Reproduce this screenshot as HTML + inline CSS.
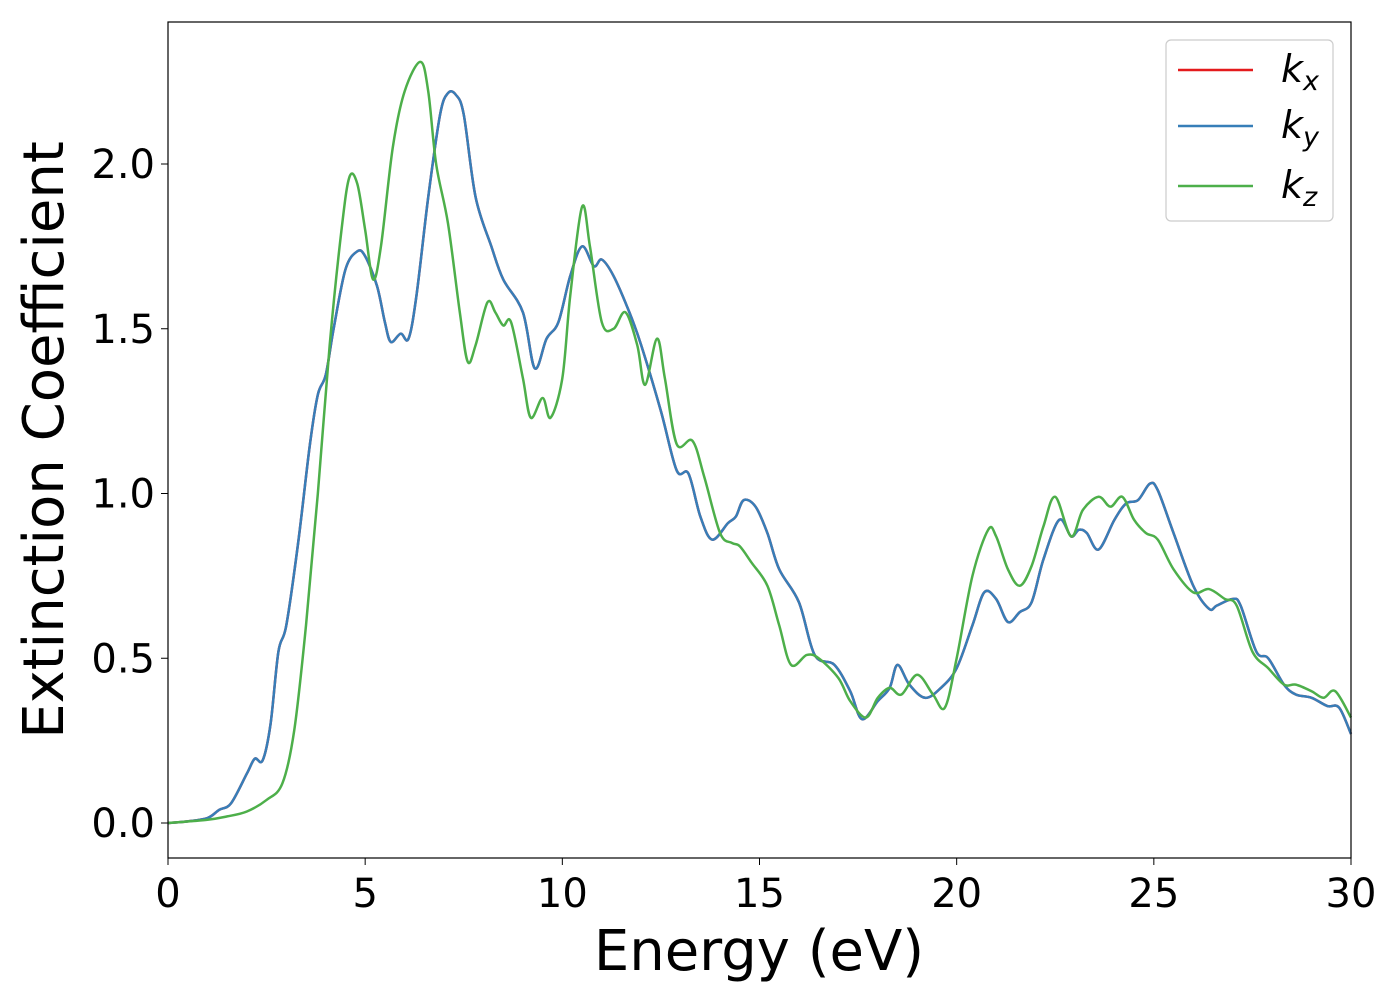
<!DOCTYPE html>
<html><head><meta charset="utf-8"><style>
body{margin:0;background:#fff;}
svg{display:block;font-family:"DejaVu Sans","Liberation Sans",sans-serif;}
</style></head><body>
<svg id="chart" width="1400" height="1000">
<rect x="0" y="0" width="1400" height="1000" fill="#fff"/>
<g id="plot"></g>
<rect x="168" y="22" width="1183" height="836" fill="none" stroke="#000" stroke-width="1.2"/>
<g id="xticks"></g><g id="yticks"></g>
<text x="759" y="970" font-size="56" text-anchor="middle">Energy (eV)</text>
<text transform="translate(63,440) rotate(-90)" font-size="56" text-anchor="middle">Extinction Coefficient</text>
<g>
<rect x="1166" y="40" width="167" height="181" rx="5" fill="#fff" stroke="#ccc" stroke-width="1.2"/>
<line x1="1178" y1="70" x2="1253" y2="70" stroke="#e41a1c" stroke-width="2.5"/>
<text x="1281" y="82" font-size="38" font-style="italic">k<tspan font-size="27" dy="8">x</tspan></text>
<line x1="1178" y1="126" x2="1253" y2="126" stroke="#377eb8" stroke-width="2.5"/>
<text x="1281" y="138" font-size="38" font-style="italic">k<tspan font-size="27" dy="8">y</tspan></text>
<line x1="1178" y1="186" x2="1253" y2="186" stroke="#4daf4a" stroke-width="2.5"/>
<text x="1281" y="198" font-size="38" font-style="italic">k<tspan font-size="27" dy="8">z</tspan></text>
</g>
</svg>
<script>
const xTicks=[0,5,10,15,20,25,30];
const yTicks=[0.0,0.5,1.0,1.5,2.0];
const kxyE=[0,0.5,1,1.3,1.6,2.0,2.2,2.4,2.6,2.8,3.0,3.3,3.6,3.8,4.0,4.2,4.5,4.8,5.0,5.3,5.5,5.65,5.9,6.1,6.3,6.6,6.9,7.1,7.3,7.5,7.8,8.2,8.5,9.0,9.3,9.6,9.9,10.2,10.5,10.8,11.0,11.3,11.7,12.0,12.5,12.9,13.2,13.5,13.8,14.2,14.4,14.6,14.9,15.2,15.5,16.0,16.4,16.9,17.3,17.6,18.0,18.3,18.5,18.8,19.2,19.6,20.0,20.4,20.7,21.0,21.3,21.6,21.9,22.2,22.6,22.9,23.1,23.3,23.6,24.0,24.3,24.6,24.9,25.1,25.5,26.0,26.4,26.6,27.0,27.2,27.6,27.9,28.3,28.6,29.0,29.4,29.7,30];
const kxyV=[0,0.005,0.015,0.04,0.06,0.15,0.195,0.19,0.3,0.52,0.6,0.85,1.15,1.3,1.36,1.5,1.68,1.735,1.72,1.63,1.52,1.46,1.485,1.47,1.6,1.9,2.15,2.215,2.21,2.15,1.9,1.75,1.65,1.55,1.38,1.47,1.52,1.66,1.75,1.69,1.71,1.66,1.55,1.45,1.25,1.07,1.06,0.93,0.86,0.91,0.93,0.98,0.96,0.88,0.77,0.67,0.51,0.48,0.4,0.315,0.37,0.41,0.48,0.42,0.38,0.41,0.47,0.6,0.7,0.68,0.61,0.64,0.67,0.8,0.92,0.87,0.89,0.88,0.83,0.92,0.97,0.98,1.03,1.01,0.88,0.72,0.65,0.66,0.68,0.66,0.52,0.5,0.42,0.39,0.38,0.355,0.35,0.27];
const kzE=[0,1,1.5,2,2.5,2.9,3.2,3.5,3.8,4.1,4.4,4.6,4.8,5.0,5.2,5.4,5.7,6.0,6.4,6.6,6.8,7.1,7.4,7.6,7.8,8.1,8.3,8.5,8.7,9.0,9.2,9.5,9.7,10.0,10.2,10.5,10.7,11.0,11.3,11.6,11.9,12.1,12.4,12.6,12.9,13.3,13.6,14.0,14.3,14.5,14.8,15.2,15.5,15.8,16.2,16.5,17.0,17.3,17.7,18.0,18.3,18.6,19.0,19.4,19.7,20.0,20.4,20.8,21.0,21.3,21.6,21.9,22.2,22.5,22.9,23.2,23.6,23.9,24.2,24.5,24.8,25.1,25.5,26.0,26.4,26.8,27.1,27.5,27.9,28.3,28.6,29.0,29.3,29.6,30];
const kzV=[0,0.01,0.02,0.035,0.07,0.12,0.28,0.6,1.0,1.45,1.8,1.96,1.94,1.8,1.65,1.75,2.05,2.22,2.31,2.22,2.0,1.82,1.55,1.4,1.45,1.58,1.55,1.51,1.52,1.35,1.23,1.29,1.23,1.35,1.6,1.87,1.75,1.52,1.5,1.55,1.45,1.33,1.47,1.35,1.15,1.16,1.05,0.88,0.85,0.84,0.79,0.72,0.6,0.48,0.51,0.5,0.44,0.37,0.32,0.38,0.41,0.39,0.45,0.39,0.35,0.5,0.75,0.89,0.87,0.77,0.72,0.78,0.9,0.99,0.87,0.95,0.99,0.96,0.99,0.92,0.88,0.86,0.77,0.7,0.71,0.68,0.66,0.52,0.47,0.42,0.42,0.4,0.38,0.4,0.32];
const NS='http://www.w3.org/2000/svg';
const xs=v=>168+v*(1183/30);
const ys=v=>823-v*329.5;
function pathD(E,V){
  const p=E.map((e,i)=>[xs(e),ys(V[i])]);
  let d='M'+p[0][0]+','+p[0][1];
  for(let i=0;i<p.length-1;i++){
    const p0=p[i-1]||p[i],p1=p[i],p2=p[i+1],p3=p[i+2]||p2;
    const c1x=p1[0]+(p2[0]-p0[0])/6,c1y=p1[1]+(p2[1]-p0[1])/6;
    const c2x=p2[0]-(p3[0]-p1[0])/6,c2y=p2[1]-(p3[1]-p1[1])/6;
    d+=` C${c1x},${c1y} ${c2x},${c2y} ${p2[0]},${p2[1]}`;
  }
  return d;
}
const plot=document.getElementById('plot');
function addLine(E,V,color,name){
  const el=document.createElementNS(NS,'path');
  el.setAttribute('d',pathD(E,V));
  el.setAttribute('fill','none');
  el.setAttribute('stroke',color);
  el.setAttribute('stroke-width','2.5');
  
  
  plot.appendChild(el);
}
addLine(kxyE,kxyV,'#e41a1c','series-kx');
addLine(kxyE,kxyV,'#377eb8','series-ky');
addLine(kzE,kzV,'#4daf4a','series-kz');
const xg=document.getElementById('xticks');
xTicks.forEach(t=>{
  const l=document.createElementNS(NS,'line');
  l.setAttribute('x1',xs(t));l.setAttribute('x2',xs(t));l.setAttribute('y1',858);l.setAttribute('y2',865);
  l.setAttribute('stroke','#000');
  
  
  xg.appendChild(l);
  const tx=document.createElementNS(NS,'text');
  tx.setAttribute('x',xs(t));tx.setAttribute('y',907);tx.setAttribute('font-size','40');tx.setAttribute('text-anchor','middle');
  tx.textContent=t;
  
  
  xg.appendChild(tx);
});
const yg=document.getElementById('yticks');
yTicks.forEach(t=>{
  const l=document.createElementNS(NS,'line');
  l.setAttribute('x1',161);l.setAttribute('x2',168);l.setAttribute('y1',ys(t));l.setAttribute('y2',ys(t));
  l.setAttribute('stroke','#000');
  
  
  yg.appendChild(l);
  const tx=document.createElementNS(NS,'text');
  tx.setAttribute('x',155);tx.setAttribute('y',ys(t)+14);tx.setAttribute('font-size','40');tx.setAttribute('text-anchor','end');
  tx.textContent=t.toFixed(1);
  
  
  yg.appendChild(tx);
});
</script>
</body></html>
